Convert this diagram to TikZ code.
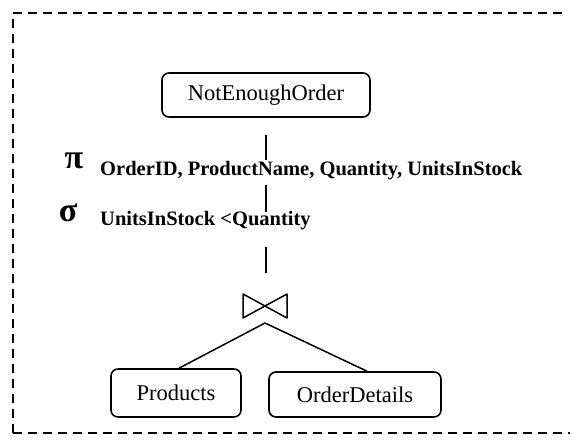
\documentclass[tikz,border=0pt]{standalone}
\usepackage{fontspec}
\setmainfont{Liberation Serif}
\begin{document}
\begin{tikzpicture}[x=1pt,y=-1pt,
  outerline/.style={line width=1.8pt,dash pattern=on 9pt off 6pt},
  relbox/.style={draw,line width=1.6pt,rounded corners=7pt,inner sep=0pt,font=\fontsize{22.5}{26}\selectfont},
  link/.style={line width=1.5pt},
  lbl/.style={inner sep=0pt,anchor=base west,font=\fontsize{20.5}{24}\selectfont\bfseries},
  greek/.style={inner sep=0pt,font=\fontsize{34}{38}\selectfont\bfseries}]
\fill[white] (0,0) rectangle (577,444);
\useasboundingbox (0,0) rectangle (577,444);
% frame (open on the right)
\coordinate (fbl) at (13,433);
\coordinate (ftl) at (13,13);
\coordinate (fbr) at (570,433);
\coordinate (ftr) at (564,13);
\draw[outerline] (fbl) -- (fbr);
\draw[outerline] (fbl) -- (ftl);
\draw[outerline] (ftl) -- (ftr);
% nodes
\node[relbox,minimum width=208pt,minimum height=44pt] (neo) at (266,95) {NotEnoughOrder};
\node[relbox,minimum width=130pt,minimum height=48pt] (prod) at (176,393) {Products};
\node[relbox,minimum width=172pt,minimum height=45pt] (od) at (355,394.5) {OrderDetails};
\node[greek] (pi) at (74,161) {π};
\node[greek] (sigma) at (68,213) {σ};
\node[lbl] (proj) at (100,175) {OrderID, ProductName, Quantity, UnitsInStock};
\node[lbl] (sel) at (100,225) {UnitsInStock <Quantity};
% join symbol
\coordinate (join) at (265,306);
\draw[link,line join=round] (join) -- ++(-22,-12) -- ++(0,24) -- cycle;
\draw[link,line join=round] (join) -- ++(22,-12) -- ++(0,24) -- cycle;
% vertical broken connector
\coordinate (v1a) at (266,135); \coordinate (v1b) at (266,160);
\coordinate (v2a) at (266,185); \coordinate (v2b) at (266,212);
\coordinate (v3a) at (266,247); \coordinate (v3b) at (266,273);
\draw[link] (v1a) -- (v1b);
\draw[link] (v2a) -- (v2b);
\draw[link] (v3a) -- (v3b);
% join branches
\coordinate (jb) at (265,323);
\draw[link] (prod.north) ++(3,0) -- (jb) -- ([xshift=12pt]od.north);
\end{tikzpicture}
\end{document}
